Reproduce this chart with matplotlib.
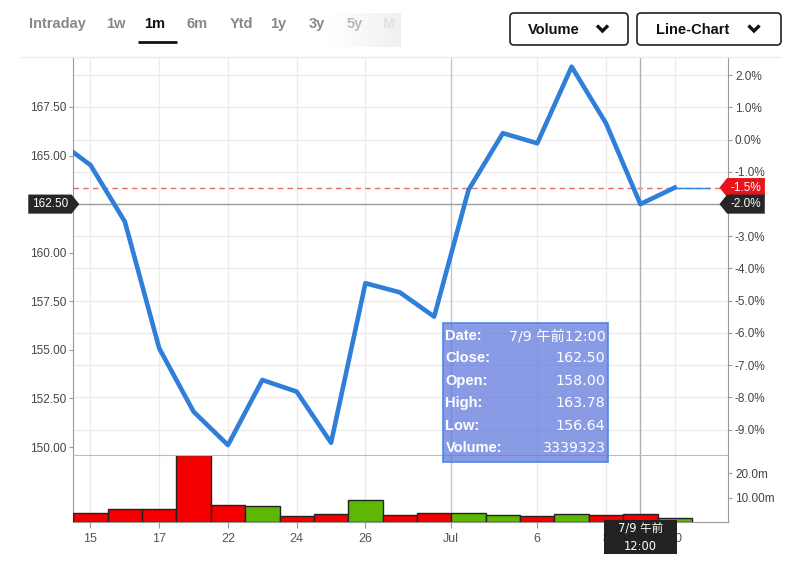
import numpy as np
import matplotlib
matplotlib.use("Agg")
import matplotlib.pyplot as plt
import matplotlib.transforms as mtransforms
from matplotlib.path import Path
from matplotlib.patches import Rectangle, FancyBboxPatch
from matplotlib.colors import LinearSegmentedColormap

plt.rcParams['font.family'] = ['Liberation Sans', 'Noto Sans CJK JP']
plt.rcParams['axes.unicode_minus'] = False

# daily closes, first value is the reference close the % axis is based on
dates = ['6/12', '6/15', '6/16', '6/17', '6/18', '6/22', '6/23', '6/24', '6/25', '6/26',
         '6/29', '6/30', '7/1', '7/2', '7/6', '7/7', '7/8', '7/9', '7/10']
closes = [165.82, 164.51, 161.60, 155.08, 151.82, 150.10, 153.45, 152.85, 150.22, 158.43,
          157.96, 156.71, 163.23, 166.15, 165.63, 169.57, 166.66, 162.50, 163.35]
# volume for 6/15 .. 7/10
volumes = [3.8e6, 5.5e6, 5.5e6, 27.2e6, 6.8e6, 6.4e6, 2.3e6, 3.3e6, 9.0e6, 2.8e6,
           3.8e6, 3.8e6, 2.9e6, 2.3e6, 3.3e6, 2.7e6, 3339323, 1.8e6]

tick_labels = ['15', '17', '22', '24', '26', 'Jul', '6', '8', '10']
tick_dates = ['6/15', '6/17', '6/22', '6/24', '6/26', '7/1', '7/6', '7/8', '7/10']
price_ticks = [150.0, 152.5, 155.0, 157.5, 160.0, 162.5, 165.0, 167.5]
pct_ticks = [-9, -8, -7, -6, -5, -4, -3, -2, -1, 0, 1, 2]
vol_ticks = [10e6, 20e6]
vol_tick_labels = ['10.00m', '20.0m']

cursor_date = '7/9'
cursor_label = '7/9 午前12:00'
tip_open, tip_high, tip_low = 158.00, 163.78, 156.64

tabs = ['Intraday', '1w', '1m', '6m', 'Ytd', '1y', '3y', '5y', 'M']

LINE = '#2f7ed8'
RED = '#f40000'
GREEN = '#5cb800'
CJK = ['DejaVu Sans', 'Noto Sans CJK JP']


def tag_style(side):
    # label box with a small point on one side
    def style(x0, y0, width, height, mutation_size):
        pad = 0.3 * mutation_size
        x0, y0 = x0 - pad, y0 - pad
        x1, y1 = x0 + width + 2 * pad, y0 + height + 2 * pad
        ym, tip = (y0 + y1) / 2, 0.4 * (y1 - y0)
        if side == 'right':
            pts = [(x0, y0), (x1, y0), (x1 + tip, ym), (x1, y1), (x0, y1), (x0, y0)]
        else:
            pts = [(x0, y0), (x1, y0), (x1, y1), (x0, y1), (x0 - tip, ym), (x0, y0)]
        return Path(pts, closed=True)
    return style


fig = plt.figure(figsize=(8, 5.65), dpi=100)
W, H = 800, 565
L, R = 73.3 / W, 728 / W
def fy(px):
    return 1 - px / H

ax = fig.add_axes([L, fy(455), R - L, fy(57) - fy(455)])
axv = fig.add_axes([L, fy(522), R - L, fy(455) - fy(522)], sharex=ax)
axp = ax.twinx()
ax.set_zorder(axp.get_zorder() + 1)
ax.patch.set_visible(False)

x = np.arange(len(closes))
cur = dates.index(cursor_date)
base = closes[0]
lo, hi = 149.59, 170.07
pct_last = (closes[-1] / base - 1) * 100
pct_cur = (closes[cur] / base - 1) * 100

# price line
ax.plot(x, closes, color=LINE, lw=3.3, zorder=4)
ax.plot([x[-1], x[-1] + 1], [closes[-1]] * 2, color=LINE, lw=1, zorder=4)
ax.axhline(closes[-1], color='#e07070', lw=1, ls=(0, (4, 3)), zorder=3)
ax.axhline(closes[cur], color='#a0a0a0', lw=1, zorder=3)
ax.axvline(cur, color='#b0b0b0', lw=1, zorder=3)
ax.set_ylim(lo, hi)
ax.set_yticks(price_ticks)
# the cursor tag sits on top of its own tick label
ax.set_yticklabels(['' if abs(v - closes[cur]) < 0.01 else f'{v:.2f}' for v in price_ticks])
ax.tick_params(axis='y', length=3, color='#999', labelsize=8.5, labelcolor='#444', pad=2)
ax.tick_params(axis='x', length=0, labelbottom=False)

# percent axis on the right
axp.set_ylim((lo / base - 1) * 100, (hi / base - 1) * 100)
axp.set_yticks(pct_ticks)
axp.set_yticklabels(['' if abs(v - pct_cur) < 0.05 else f'{v:.1f}%' for v in pct_ticks])
axp.tick_params(axis='y', length=3, color='#999', labelsize=8.5, labelcolor='#444', pad=2)
axp.grid(axis='y', color='#ececec', lw=1)
for s in ['top', 'bottom', 'left']:
    axp.spines[s].set_visible(False)
axp.spines['right'].set_color('#999')

# volume bars
chg = np.diff(closes)
bar_cols = [GREEN if c > 0 else RED for c in chg]
axv.bar(x[1:], volumes, width=1.0, color=bar_cols, edgecolor='#222', lw=1.0, zorder=3)
axv.axvline(cur, color='#b0b0b0', lw=1, zorder=2)
axv.set_ylim(0, 27.35e6)
axv.yaxis.tick_right()
axv.set_yticks(vol_ticks)
axv.set_yticklabels(vol_tick_labels)
axv.tick_params(axis='y', length=3, color='#999', labelsize=8.5, labelcolor='#444', pad=2)

tick_pos = [dates.index(d) - (0.5 if lbl == 'Jul' else 0) for d, lbl in zip(tick_dates, tick_labels)]
axv.set_xticks(tick_pos)
axv.set_xticklabels(tick_labels)
axv.tick_params(axis='x', length=4, color='#999', labelsize=9, labelcolor='#555', pad=4)
ax.set_xlim(0.5, 19.55)

for a in (ax, axv):
    a.grid(axis='x', color='#ececec', lw=1)
    a.set_axisbelow(True)
    a.get_xgridlines()[tick_labels.index('Jul')].set_color('#c4c4c4')

ax.spines['top'].set_color('#e8e8e8')
ax.spines['bottom'].set_color('#bbbbbb')
ax.spines['left'].set_color('#999')
ax.spines['right'].set_visible(False)
axv.spines['top'].set_visible(False)
for s in ['left', 'right', 'bottom']:
    axv.spines[s].set_color('#999')

# value tags
bl = mtransforms.blended_transform_factory(ax.transAxes, ax.transData)
ax.text(-0.008, closes[cur], f'{closes[cur]:.2f}', transform=bl, ha='right', va='center',
        color='white', fontsize=8.5, clip_on=False, zorder=10,
        bbox=dict(boxstyle=tag_style('right'), fc='#262626', ec='none'))
ax.text(1.004, closes[-1], f'{pct_last:.1f}%', transform=bl, ha='left', va='center',
        color='white', fontsize=8.5, clip_on=False, zorder=10,
        bbox=dict(boxstyle=tag_style('left'), fc='#e8141b', ec='none'))
ax.text(1.004, closes[cur], f'{pct_cur:.1f}%', transform=bl, ha='left', va='center',
        color='white', fontsize=8.5, clip_on=False, zorder=10,
        bbox=dict(boxstyle=tag_style('left'), fc='#262626', ec='none'))

# overlay in pixel coordinates for the page chrome
ui = fig.add_axes([0, 0, 1, 1])
ui.set_zorder(20)
ui.patch.set_visible(False)
ui.axis('off')

fade = LinearSegmentedColormap.from_list('fade', ['#ffffff', '#f0f0f0'])
ui.imshow(np.linspace(0, 1, 64)[None, :], cmap=fade, extent=(330, 401, 47, 13),
          aspect='auto', zorder=1)
tab_x = [57, 116, 155, 197, 241, 278, 317, 355, 389]
tab_col = ['#888'] * 7 + ['#bbbbbb', '#e2e2e2']
for t, tx, tc in zip(tabs, tab_x, tab_col):
    ui.text(tx, 24, t, ha='center', va='center', fontsize=10.5, fontweight='bold',
            color='#111' if t == '1m' else tc, zorder=2)
ui.plot([138, 177], [42, 42], color='#111', lw=2, solid_capstyle='butt')
ui.plot([20, 780], [57, 57], color='#ededed', lw=1)

for bx, bw, label, tx, cx in [(510, 118, 'Volume', 528, 602.5), (637, 144, 'Line-Chart', 656, 754)]:
    ui.add_patch(FancyBboxPatch((bx, 13), bw, 32, boxstyle='round,pad=0,rounding_size=4',
                                fc='white', ec='#222', lw=1.2))
    ui.text(tx, 29.5, label, ha='left', va='center', fontsize=10.5, fontweight='bold', color='#111')
    ui.plot([cx - 5.5, cx, cx + 5.5], [25.5, 31, 25.5], color='#111', lw=2.4,
            solid_joinstyle='miter', solid_capstyle='butt')

# tooltip
ui.add_patch(Rectangle((442.7, 322.7), 165.6, 139, fc=(0.36, 0.46, 0.86, 0.72),
                       ec='#4f86e8', lw=1.2, zorder=5))
tip_keys = ['Date:', 'Close:', 'Open:', 'High:', 'Low:', 'Volume:']
tip_vals = [cursor_label, f'{closes[cur]:.2f}', f'{tip_open:.2f}', f'{tip_high:.2f}',
            f'{tip_low:.2f}', f'{int(volumes[cur - 1])}']
for i, (k, v) in enumerate(zip(tip_keys, tip_vals)):
    yy = 336 + i * 22.4
    ui.text(445.5, yy, k, ha='left', va='center', fontsize=10.5, fontweight='bold',
            color='white', zorder=6)
    ui.text(605.5, yy, v, ha='right', va='center', fontsize=10.3, family=CJK,
            color='white', zorder=6)

# date label under the crosshair
bx_tr = mtransforms.blended_transform_factory(axv.transData, ui.transData)
ui.add_patch(Rectangle((cur - 1.06, 520), 2.12, 34, transform=bx_tr, fc='#222', ec='none', zorder=7))
ui.text(cur, 529, '7/9 午前', transform=bx_tr, ha='center', va='center', fontsize=8.3,
        family=CJK, color='white', zorder=8)
ui.text(cur, 546, '12:00', transform=bx_tr, ha='center', va='center', fontsize=8.3,
        family=CJK, color='white', zorder=8)

ui.set_xlim(0, W)
ui.set_ylim(H, 0)

fig.savefig('out.png', dpi=100, facecolor='white')
